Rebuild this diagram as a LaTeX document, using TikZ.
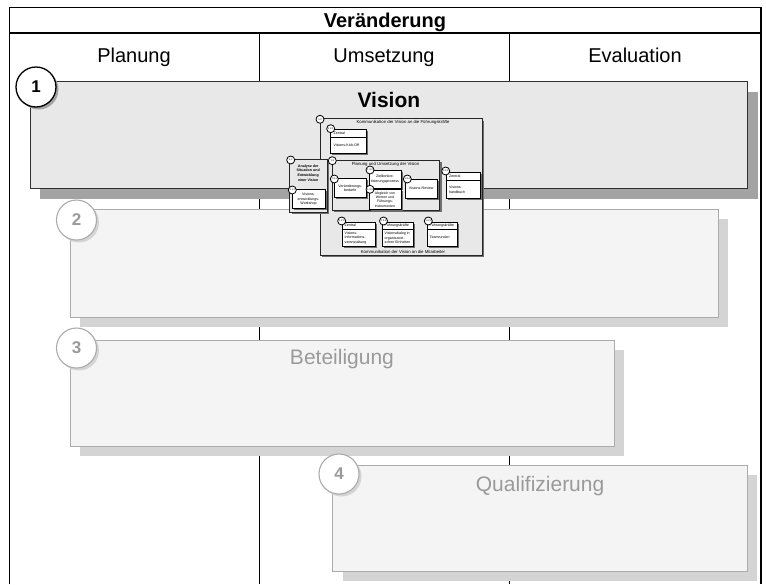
\documentclass[tikz,border=0pt]{standalone}
\usepackage{fontspec}
\setmainfont{Liberation Sans}
\usetikzlibrary{shadows}
\definecolor{visfill}{HTML}{E8E8E8}
\definecolor{visedge}{HTML}{303030}
\definecolor{visshadow}{HTML}{A3A3A3}
\definecolor{palefill}{HTML}{F4F4F4}
\definecolor{paleedge}{HTML}{ABABAB}
\definecolor{paleshadow}{HTML}{D4D4D4}
\definecolor{paletext}{HTML}{9A9A9A}
\definecolor{smallshadow}{HTML}{6E6E6E}
\newcommand\boxfs{\fontsize{3.6}{4.6}\selectfont}
\newcommand\capfs{\fontsize{4.3}{5}\selectfont}
\begin{document}
\begin{tikzpicture}[x=1pt,y=-1pt,
  frameline/.style={draw=black, line width=1.1pt},
  colline/.style={draw=black, line width=0.9pt},
  bigbox/.style={draw=visedge, fill=visfill, line width=1.2pt, anchor=north west, inner sep=0pt,
    drop shadow={shadow xshift=10pt, shadow yshift=-10pt, fill=visshadow, opacity=1}},
  palebox/.style={draw=paleedge, fill=palefill, line width=0.9pt, anchor=north west, inner sep=0pt,
    drop shadow={shadow xshift=10pt, shadow yshift=-10pt, fill=paleshadow, opacity=1}},
  numdark/.style={circle, draw=black, fill=white, line width=1.3pt, minimum size=40pt, inner sep=0pt,
    font=\fontsize{17}{20}\selectfont\bfseries,
    drop shadow={shadow xshift=2.5pt, shadow yshift=-2.5pt, fill=visshadow, opacity=1}},
  numpale/.style={circle, draw=paleedge, fill=white, line width=1.1pt, minimum size=40pt, inner sep=0pt,
    text=paletext, font=\fontsize{17}{20}\selectfont\bfseries,
    drop shadow={shadow xshift=2.5pt, shadow yshift=-2.5pt, fill=paleshadow, opacity=1}},
  headtxt/.style={font=\fontsize{20}{24}\selectfont, inner sep=0pt, anchor=base},
  boxtitle/.style={font=\fontsize{21}{25}\selectfont, inner sep=0pt, anchor=base},
  cbox/.style={draw=black!85, fill=visfill, line width=0.8pt, anchor=north west, inner sep=0pt,
    drop shadow={shadow xshift=2pt, shadow yshift=-2pt, fill=smallshadow, opacity=1}},
  sbox/.style={draw=black, fill=white, line width=0.6pt, anchor=north west, inner sep=0pt,
    drop shadow={shadow xshift=1.5pt, shadow yshift=-1.5pt, fill=smallshadow, opacity=1}},
  snum/.style={circle, draw=black, fill=white, line width=0.8pt, minimum size=8pt, inner sep=0pt,
    font=\fontsize{2.5}{2.8}\selectfont},
  stxt/.style={font=\boxfs, align=center, inner sep=0pt},
  sltxt/.style={font=\boxfs, align=left, inner sep=0pt, anchor=west},
  captxt/.style={font=\capfs, inner sep=0pt},
  divider/.style={draw=black, line width=0.5pt}
]
\useasboundingbox (0,0) rectangle (766,584);
% frame and columns
\draw[frameline] (9.5,584) -- (9.5,7.5) -- (761,7.5) -- (761,584);
\draw[frameline] (9.5,33) -- (761,33);
\draw[colline] (259,33) -- (259,584);
\draw[colline] (509,33) -- (509,584);
\node[headtxt, font=\fontsize{20}{24}\selectfont\bfseries] (titel) at (385,27.5) {Veränderung};
\node[headtxt] (planung) at (134,62.5) {Planung};
\node[headtxt] (umsetzung) at (384,62.5) {Umsetzung};
\node[headtxt] (evaluation) at (635,62.5) {Evaluation};

% big boxes
\node[bigbox, minimum width=717.5pt, minimum height=107pt] (vision) at (29.5,81) {};
\node[boxtitle, font=\fontsize{21}{25}\selectfont\bfseries] (visiontitle) at ([yshift=-26.5pt]vision.north) {Vision};
\node[palebox, minimum width=647.7pt, minimum height=108pt] (box2) at (70,209) {};
\node[palebox, minimum width=544pt, minimum height=106pt] (box3) at (69.5,339.5) {};
\node[boxtitle, text=paletext] (box3title) at ([yshift=-25pt]box3.north) {Beteiligung};
\node[palebox, minimum width=414.7pt, minimum height=106pt] (box4) at (332.3,465) {};
\node[boxtitle, text=paletext] (box4title) at ([yshift=-26pt]box4.north) {Qualifizierung};

\node[numdark] (n1) at (36,87) {1};
\node[numpale] (n2) at (76.5,220) {2};
\node[numpale] (n3) at (76.5,348) {3};
\node[numpale] (n4) at (339,474) {4};

% small diagram
\node[cbox, minimum width=161.7pt, minimum height=136.7pt] (k12) at (320,118.3) {};
\node[captxt] (k12cap) at (403,122.5) {Kommunikation der Vision an die Führungskräfte};
\node[captxt] (k12cap2) at (403,252.3) {Kommunikation der Vision an die Mitarbeiter};

\node[sbox, minimum width=35.7pt, minimum height=24.3pt] (kick) at (330,129) {};
\draw[divider] ([yshift=-8.3pt]kick.north west) -- ([yshift=-8.3pt]kick.north east);
\node[sltxt] (kickh) at (333.5,133.3) {Zentral};
\node[sltxt] (kickt) at (333.5,145) {Visions-Kick-Off};

\node[cbox, minimum width=37.7pt, minimum height=52.4pt] (k11) at (289.3,159.3) {};
\node[stxt, font=\boxfs\bfseries] (k11t) at (308.2,173) {Analyse der\\Situation und\\Entwicklung\\einer Vision};
\node[sbox, minimum width=33.3pt, minimum height=19pt] (ws) at (291.7,189.3) {};
\node[stxt] (wst) at (308.5,199.2) {Visions-\\entwicklungs-\\Workshop};

\node[cbox, minimum width=107.6pt, minimum height=50pt] (k13) at (331.7,160) {};
\node[captxt] (k13cap) at (385.5,164.6) {Planung und Umsetzung der Vision};
\node[sbox, minimum width=31.7pt, minimum height=19pt] (bed) at (334.3,178.3) {};
\node[stxt] (bedt) at (350.2,188.3) {Veränderungs-\\bedarfe};
\node[sbox, minimum width=31.4pt, minimum height=17.7pt] (ziel) at (369.3,170) {};
\node[stxt] (zielt) at (385,179.2) {Zielkonkre-\\tisierungsprozess};
\node[sbox, minimum width=31.4pt, minimum height=20pt] (abg) at (369.3,189) {};
\node[stxt, font=\fontsize{3.5}{4.3}\selectfont] (abgt) at (385,199.3) {Abgleich von\\Werten und\\Führungs-\\instrumenten};
\node[sbox, minimum width=32.3pt, minimum height=18.7pt] (rev) at (405,179) {};
\node[stxt] (revt) at (421.2,188.5) {Visions-Review};

\node[sbox, minimum width=34pt, minimum height=25.4pt] (hb) at (446,172.3) {};
\draw[divider] ([yshift=-8.4pt]hb.north west) -- ([yshift=-8.4pt]hb.north east);
\node[sltxt] (hbh) at (449,176.6) {Zentral};
\node[sltxt] (hbt) at (449,190) {Visions-\\handbuch};

\node[sbox, minimum width=33.3pt, minimum height=24pt] (info) at (341.7,222) {};
\draw[divider] ([yshift=-6.8pt]info.north west) -- ([yshift=-6.8pt]info.north east);
\node[sltxt] (infoh) at (344.5,225.6) {Zentral};
\node[sltxt] (infot) at (344.5,238) {Visions-\\Informations-\\veranstaltung};

\node[sbox, minimum width=31.6pt, minimum height=24pt] (dia) at (381.7,222) {};
\draw[divider] ([yshift=-6.8pt]dia.north west) -- ([yshift=-6.8pt]dia.north east);
\node[sltxt] (diah) at (384.5,225.6) {Führungskräfte};
\node[sltxt] (diat) at (384.5,238) {Visionsdialog in\\organisatori-\\schen Einheiten};

\node[sbox, minimum width=30pt, minimum height=24pt] (team) at (426.7,222) {};
\draw[divider] ([yshift=-6.8pt]team.north west) -- ([yshift=-6.8pt]team.north east);
\node[sltxt] (teamh) at (429.5,225.6) {Führungskräfte};
\node[sltxt] (teamt) at (429.5,237) {Teamrunden};

% small numbers
\node[snum] (c12) at (320,119.3) {1.2};
\node[snum] (c121) at (330.7,128.7) {1.2.1};
\node[snum] (c11) at (290.7,160) {1.1};
\node[snum] (c111) at (292.3,190) {1.1.1};
\node[snum] (c13) at (332.3,160.7) {1.3};
\node[snum] (c131) at (334.3,179) {1.3.1};
\node[snum] (c132) at (370,170) {1.3.2};
\node[snum] (c133) at (370,189.3) {1.3.3};
\node[snum] (c134) at (407.3,179) {1.3.4};
\node[snum] (c122) at (445.7,171) {1.2.2};
\node[snum] (c123) at (341.7,221) {1.2.3};
\node[snum] (c124) at (383.5,221) {1.2.4};
\node[snum] (c125) at (428.3,221) {1.2.5};
\end{tikzpicture}
\end{document}
